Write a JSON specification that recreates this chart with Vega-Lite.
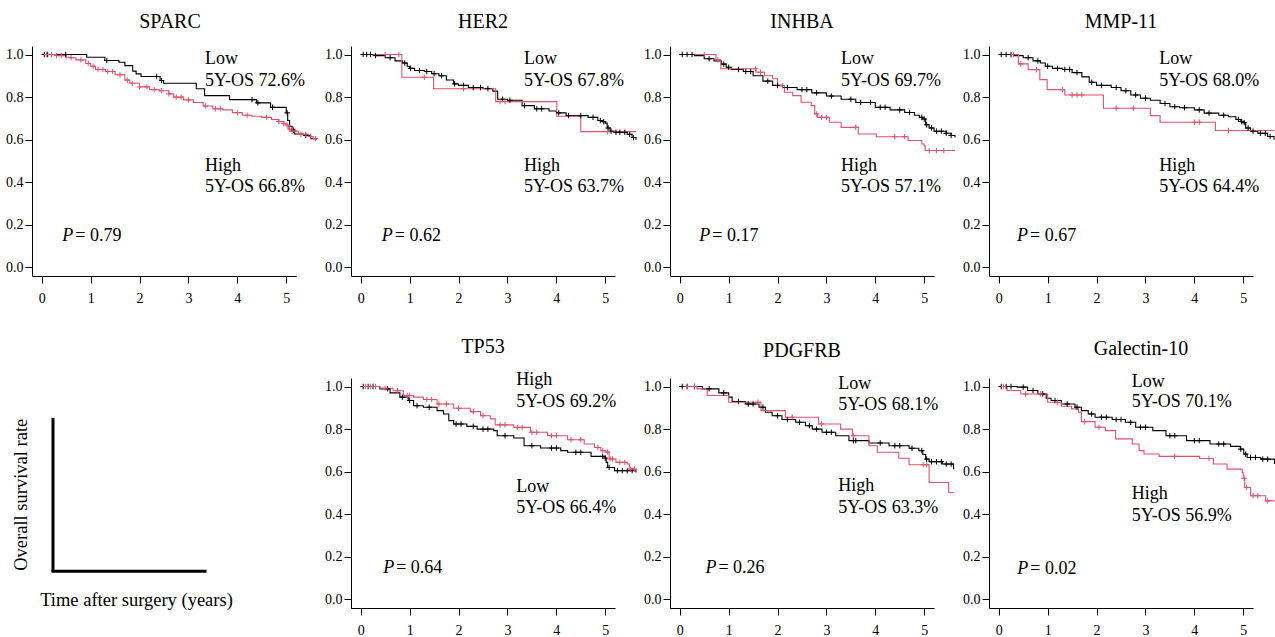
{
  "$schema": "https://vega.github.io/schema/vega-lite/v6.json",
  "padding": {"left": 5, "top": 12, "right": 0, "bottom": 0},
  "background": "white",
  "data": {"name": "km"},
  "datasets": {
    "km": [
      {"p":"SPARC","g":"Low","k":"c","t":[0,0.92,1.29,1.58,1.7,1.86,1.93,2.03,2.42,2.49,3.16,3.33,3.84,4.39,4.68,5.0,5.03,5.07,5.12,5.17,5.35,5.5,5.62],"s":[1,0.987,0.972,0.964,0.948,0.922,0.909,0.897,0.878,0.865,0.839,0.807,0.788,0.773,0.752,0.726,0.69,0.663,0.645,0.627,0.62,0.605,0.6]},
      {"p":"SPARC","g":"Low","k":"x","t":[0.05,0.12,0.49,1.33,2.35,2.45,4.3,4.42,4.72,5.02,5.15,5.4],"s":[1,1,1,0.972,0.897,0.878,0.788,0.773,0.752,0.726,0.645,0.62]},
      {"p":"SPARC","g":"High","k":"c","t":[0,0.3,0.5,0.7,0.9,1.0,1.1,1.3,1.5,1.7,1.8,2.0,2.2,2.4,2.6,2.7,2.9,3.1,3.3,3.5,3.7,3.9,4.1,4.3,4.5,4.7,4.85,4.95,5.0,5.05,5.1,5.25,5.45,5.55,5.62],"s":[1,0.995,0.985,0.975,0.958,0.945,0.93,0.92,0.905,0.88,0.865,0.848,0.835,0.83,0.815,0.8,0.787,0.775,0.758,0.745,0.74,0.727,0.715,0.71,0.705,0.695,0.685,0.675,0.668,0.65,0.64,0.625,0.615,0.605,0.6]},
      {"p":"SPARC","g":"High","k":"x","t":[0.1,0.2,0.3,0.4,0.6,0.8,0.95,1.05,1.15,1.25,1.35,1.45,1.6,1.75,1.85,2.0,2.15,2.3,2.45,2.6,2.75,2.85,3.0,3.35,3.55,3.65,4.0,4.2,4.6,4.85,4.95,5.02,5.07,5.12,5.18,5.3,5.4,5.5,5.6],"s":[1,1,0.995,0.995,0.985,0.975,0.958,0.945,0.93,0.93,0.92,0.92,0.905,0.88,0.865,0.848,0.848,0.835,0.83,0.815,0.8,0.8,0.787,0.758,0.745,0.745,0.727,0.715,0.705,0.685,0.675,0.668,0.65,0.64,0.64,0.625,0.625,0.615,0.605]},
      {"p":"SPARC","k":"l","t":[3.34,3.34,3.34,3.34],"s":[0.956,0.854,0.454,0.353],"txt":["Low","5Y-OS 72.6%","High","5Y-OS 66.8%"]},
      {"p":"SPARC","k":"p","t":0.42,"s":0.125,"txt":"= 0.79"},

      {"p":"HER2","g":"Low","k":"c","t":[0,0.3,0.5,0.7,0.85,0.95,1.0,1.1,1.3,1.45,1.6,1.75,1.9,2.0,2.2,2.5,2.7,2.8,3.0,3.3,3.55,3.85,4.0,4.2,4.65,4.85,4.95,5.0,5.04,5.1,5.2,5.45,5.55,5.63],"s":[1,0.995,0.985,0.97,0.96,0.945,0.935,0.925,0.92,0.91,0.9,0.88,0.862,0.855,0.845,0.84,0.828,0.79,0.785,0.76,0.745,0.735,0.726,0.713,0.705,0.69,0.685,0.678,0.655,0.64,0.635,0.625,0.61,0.6]},
      {"p":"HER2","g":"Low","k":"x","t":[0.05,0.12,0.2,0.3,0.6,0.9,1.02,1.2,1.35,1.5,1.65,1.92,2.1,2.3,2.45,2.6,2.9,3.05,3.35,3.6,3.7,4.05,4.25,4.5,4.75,4.9,4.97,5.06,5.12,5.22,5.3,5.4,5.5,5.58],"s":[1,1,1,0.995,0.985,0.96,0.935,0.925,0.92,0.91,0.9,0.862,0.855,0.845,0.845,0.84,0.79,0.785,0.76,0.745,0.745,0.726,0.713,0.713,0.705,0.69,0.685,0.655,0.64,0.635,0.635,0.635,0.625,0.61]},
      {"p":"HER2","g":"High","k":"c","t":[0,0.84,1.49,2.76,4.01,4.5,5.63],"s":[1,0.893,0.839,0.779,0.71,0.638,0.638]},
      {"p":"HER2","g":"High","k":"x","t":[0.5,0.78,1.3,2.1,2.85,2.95,5.05],"s":[1,1,0.893,0.839,0.779,0.779,0.638]},
      {"p":"HER2","k":"l","t":[3.34,3.34,3.34,3.34],"s":[0.956,0.854,0.454,0.353],"txt":["Low","5Y-OS 67.8%","High","5Y-OS 63.7%"]},
      {"p":"HER2","k":"p","t":0.43,"s":0.125,"txt":"= 0.62"},

      {"p":"INHBA","g":"Low","k":"c","t":[0,0.3,0.5,0.7,0.85,0.95,1.05,1.3,1.5,1.7,1.9,2.1,2.4,2.7,3.0,3.3,3.6,4.0,4.3,4.6,4.8,4.9,4.97,5.03,5.1,5.2,5.45,5.55,5.63],"s":[1,0.995,0.98,0.97,0.955,0.94,0.93,0.92,0.9,0.875,0.855,0.845,0.835,0.82,0.805,0.79,0.775,0.752,0.74,0.728,0.715,0.705,0.697,0.67,0.655,0.64,0.63,0.62,0.61]},
      {"p":"INHBA","g":"Low","k":"x","t":[0.05,0.15,0.25,0.6,0.9,1.0,1.2,1.35,1.45,1.8,2.0,2.2,2.5,2.6,2.8,3.1,3.5,3.7,3.9,4.1,4.2,4.5,4.7,4.95,5.0,5.05,5.15,5.25,5.35,5.45,5.55],"s":[1,1,1,0.98,0.955,0.94,0.93,0.92,0.92,0.875,0.855,0.845,0.835,0.835,0.82,0.805,0.79,0.775,0.775,0.752,0.752,0.74,0.728,0.705,0.697,0.67,0.655,0.64,0.64,0.63,0.62]},
      {"p":"INHBA","g":"High","k":"c","t":[0,0.74,0.84,1.56,1.73,1.9,2.0,2.14,2.31,2.48,2.69,2.76,2.82,3.06,3.3,3.65,4.02,4.67,4.95,5.0,5.02,5.63],"s":[1,0.975,0.933,0.917,0.9,0.886,0.854,0.823,0.807,0.776,0.76,0.721,0.705,0.682,0.658,0.627,0.614,0.596,0.58,0.571,0.549,0.549]},
      {"p":"INHBA","g":"High","k":"x","t":[0.5,0.78,1.55,1.65,2.1,2.8,2.9,3.0,3.6,4.4,4.6,5.1,5.25,5.4],"s":[1,0.975,0.933,0.917,0.854,0.721,0.705,0.705,0.658,0.614,0.614,0.549,0.549,0.549]},
      {"p":"INHBA","k":"l","t":[3.3,3.3,3.3,3.3],"s":[0.956,0.854,0.454,0.353],"txt":["Low","5Y-OS 69.7%","High","5Y-OS 57.1%"]},
      {"p":"INHBA","k":"p","t":0.4,"s":0.125,"txt":"= 0.17"},

      {"p":"MMP-11","g":"Low","k":"c","t":[0,0.3,0.5,0.7,0.85,0.95,1.1,1.3,1.5,1.7,1.85,2.0,2.3,2.5,2.7,2.9,3.1,3.3,3.5,3.7,4.0,4.2,4.5,4.7,4.85,4.95,5.0,5.05,5.15,5.3,5.5,5.63],"s":[1,0.995,0.985,0.97,0.96,0.945,0.935,0.93,0.915,0.895,0.87,0.855,0.845,0.83,0.81,0.795,0.785,0.77,0.755,0.75,0.74,0.725,0.715,0.708,0.695,0.685,0.68,0.655,0.64,0.63,0.615,0.6]},
      {"p":"MMP-11","g":"Low","k":"x","t":[0.05,0.15,0.25,0.6,0.8,1.0,1.2,1.35,1.45,1.6,1.9,2.1,2.4,2.6,2.8,3.0,3.4,3.6,3.8,4.1,4.3,4.6,4.9,4.97,5.02,5.1,5.2,5.35,5.45,5.55],"s":[1,1,1,0.985,0.97,0.945,0.935,0.93,0.93,0.915,0.87,0.855,0.845,0.83,0.81,0.795,0.77,0.755,0.75,0.74,0.725,0.715,0.695,0.685,0.68,0.655,0.64,0.63,0.63,0.615]},
      {"p":"MMP-11","g":"High","k":"c","t":[0,0.4,0.6,0.84,0.99,1.35,2.14,3.1,3.3,4.43,5.63],"s":[1,0.956,0.929,0.882,0.835,0.81,0.748,0.713,0.682,0.643,0.643]},
      {"p":"MMP-11","g":"High","k":"x","t":[0.3,0.45,0.77,1.3,1.5,1.6,1.7,2.4,2.75,4.0,4.1,4.7],"s":[1,0.956,0.929,0.835,0.81,0.81,0.81,0.748,0.748,0.682,0.682,0.643]},
      {"p":"MMP-11","k":"l","t":[3.28,3.28,3.28,3.28],"s":[0.956,0.854,0.454,0.353],"txt":["Low","5Y-OS 68.0%","High","5Y-OS 64.4%"]},
      {"p":"MMP-11","k":"p","t":0.375,"s":0.125,"txt":"= 0.67"},

      {"p":"TP53","g":"Low","k":"c","t":[0,0.39,0.6,0.8,0.97,1.08,1.28,1.56,1.69,1.8,1.9,2.17,2.38,2.72,2.79,3.13,3.34,3.68,4.09,4.23,4.71,5.0,5.02,5.05,5.19,5.63],"s":[1,0.989,0.97,0.95,0.934,0.91,0.903,0.887,0.871,0.84,0.824,0.813,0.8,0.793,0.769,0.758,0.722,0.711,0.699,0.691,0.672,0.664,0.644,0.62,0.605,0.6]},
      {"p":"TP53","g":"Low","k":"x","t":[0.05,0.15,0.25,0.55,0.85,1.0,1.15,1.4,1.95,2.05,2.3,2.5,2.6,2.95,3.5,3.9,4.0,4.4,4.5,4.95,5.0,5.08,5.25,5.35,5.45,5.55],"s":[1,1,1,0.989,0.95,0.934,0.91,0.903,0.824,0.824,0.813,0.8,0.8,0.769,0.722,0.711,0.711,0.691,0.691,0.672,0.664,0.62,0.605,0.605,0.605,0.605]},
      {"p":"TP53","g":"High","k":"c","t":[0,0.39,0.66,0.87,1.08,1.28,1.56,1.9,2.24,2.45,2.65,2.75,3.13,3.47,3.82,4.23,4.57,4.78,4.91,5.0,5.08,5.22,5.45,5.5,5.63],"s":[1,0.992,0.98,0.958,0.95,0.939,0.918,0.898,0.882,0.863,0.848,0.82,0.808,0.785,0.769,0.75,0.73,0.714,0.699,0.692,0.66,0.644,0.636,0.612,0.593]},
      {"p":"TP53","g":"High","k":"x","t":[0.1,0.2,0.3,0.5,0.75,0.95,1.0,1.35,1.45,1.6,1.75,2.0,2.3,2.5,2.85,2.95,3.2,3.3,3.5,3.6,3.9,4.0,4.3,4.5,4.85,4.95,5.05,5.1,5.15,5.3,5.4,5.52,5.6],"s":[1,1,1,0.992,0.98,0.958,0.958,0.939,0.939,0.918,0.918,0.898,0.882,0.863,0.82,0.82,0.808,0.808,0.785,0.785,0.769,0.769,0.75,0.75,0.714,0.699,0.692,0.66,0.66,0.644,0.644,0.612,0.612]},
      {"p":"TP53","k":"l","t":[3.18,3.18,3.18,3.18],"s":[1.005,0.903,0.507,0.408],"txt":["High","5Y-OS 69.2%","Low","5Y-OS 66.4%"]},
      {"p":"TP53","k":"p","t":0.458,"s":0.126,"txt":"= 0.64"},

      {"p":"PDGFRB","g":"Low","k":"c","t":[0,0.46,0.8,1.0,1.07,1.34,1.62,1.75,1.89,2.09,2.37,2.57,2.71,2.91,3.19,3.46,3.87,4.28,4.69,4.89,4.97,5.03,5.1,5.37,5.6],"s":[1,0.989,0.97,0.95,0.93,0.918,0.903,0.879,0.863,0.845,0.832,0.816,0.8,0.785,0.769,0.746,0.735,0.722,0.71,0.699,0.681,0.659,0.647,0.636,0.612]},
      {"p":"PDGFRB","g":"Low","k":"x","t":[0.05,0.15,0.3,0.6,0.9,1.2,1.4,1.5,1.7,2.0,2.2,2.45,2.65,2.8,3.0,3.1,3.55,3.6,4.1,4.4,4.5,4.75,4.95,5.05,5.15,5.25,5.35,5.45,5.55],"s":[1,1,1,0.989,0.97,0.93,0.918,0.918,0.903,0.863,0.845,0.832,0.816,0.8,0.785,0.785,0.746,0.746,0.735,0.722,0.722,0.71,0.699,0.659,0.647,0.647,0.647,0.636,0.636]},
      {"p":"PDGFRB","g":"High","k":"c","t":[0,0.35,0.56,1.0,1.66,2.16,2.84,3.29,3.53,3.87,4.04,4.48,4.69,5.1,5.5,5.6],"s":[1,0.989,0.958,0.926,0.887,0.856,0.824,0.8,0.769,0.722,0.691,0.663,0.633,0.549,0.502,0.502]},
      {"p":"PDGFRB","g":"High","k":"x","t":[0.15,0.3,1.6,2.3,2.9,3.55,4.98,5.05],"s":[1,1,0.926,0.856,0.824,0.769,0.633,0.633]},
      {"p":"PDGFRB","k":"l","t":[3.24,3.24,3.24,3.24],"s":[0.989,0.892,0.51,0.408],"txt":["Low","5Y-OS 68.1%","High","5Y-OS 63.3%"]},
      {"p":"PDGFRB","k":"p","t":0.525,"s":0.126,"txt":"= 0.26"},

      {"p":"Galectin-10","g":"Low","k":"c","t":[0,0.38,0.59,0.8,0.97,1.07,1.28,1.56,1.69,1.83,1.97,2.32,2.59,2.8,3.15,3.42,3.84,4.32,4.74,4.94,5.01,5.08,5.36,5.64],"s":[1,0.997,0.981,0.965,0.945,0.934,0.918,0.903,0.887,0.871,0.856,0.845,0.832,0.809,0.793,0.769,0.746,0.73,0.719,0.706,0.683,0.667,0.659,0.636]},
      {"p":"Galectin-10","g":"Low","k":"x","t":[0.05,0.15,0.25,0.5,0.7,0.9,1.15,1.4,1.6,1.9,2.1,2.2,2.4,2.5,2.7,2.9,3.0,3.5,3.6,4.0,4.1,4.5,4.6,4.95,5.05,5.15,5.25,5.4,5.5],"s":[1,1,1,0.997,0.981,0.965,0.934,0.918,0.903,0.871,0.856,0.856,0.845,0.845,0.832,0.809,0.809,0.769,0.769,0.746,0.746,0.73,0.73,0.706,0.683,0.667,0.667,0.659,0.659]},
      {"p":"Galectin-10","g":"High","k":"c","t":[0,0.17,0.45,1.0,1.28,1.49,1.63,1.69,1.97,2.18,2.39,2.73,2.87,2.97,3.28,4.11,4.39,4.67,4.98,5.0,5.03,5.15,5.46,5.64],"s":[1,0.981,0.965,0.926,0.907,0.895,0.879,0.835,0.809,0.793,0.754,0.73,0.699,0.683,0.672,0.662,0.636,0.612,0.597,0.569,0.526,0.487,0.463,0.463]},
      {"p":"Galectin-10","g":"High","k":"x","t":[0.1,0.55,0.85,1.2,1.75,2.05,3.6,4.3,5.02,5.07,5.2,5.3,5.5],"s":[1,0.965,0.965,0.926,0.835,0.809,0.672,0.662,0.569,0.526,0.487,0.487,0.463]},
      {"p":"Galectin-10","k":"l","t":[2.72,2.72,2.72,2.72],"s":[1.0,0.903,0.47,0.368],"txt":["Low","5Y-OS 70.1%","High","5Y-OS 56.9%"]},
      {"p":"Galectin-10","k":"p","t":0.38,"s":0.122,"txt":"= 0.02"}
    ]
  },
  "columns": 4,
  "spacing": {"row": 102, "column": 55},
  "bounds": "flush",
  "concat": [
    {
      "title": {"text": "SPARC", "dx": 6},
      "width": 264, "height": 230,
      "transform": [{"filter": "datum.p === 'SPARC'"}],
      "encoding": {
        "x": {"field": "t", "type": "quantitative", "scale": {"domain": [-0.2, 5.2], "nice": false, "zero": false}, "axis": {"values": [0,1,2,3,4,5], "format": "d", "title": null}},
        "y": {"field": "s", "type": "quantitative", "scale": {"domain": [-0.04, 1.04], "nice": false, "zero": false}, "axis": {"values": [0,0.2,0.4,0.6,0.8,1], "format": ".1f", "title": null}}
      },
      "layer": [
        {"transform": [{"filter": "datum.k === 'c'"}, {"flatten": ["t","s"]}], "mark": {"type": "line", "interpolate": "step-after", "strokeWidth": 1.1}, "encoding": {"color": {"field": "g", "type": "nominal", "scale": {"domain": ["Low","High"], "range": ["#000000","#DF536B"]}, "legend": null}}},
        {"transform": [{"filter": "datum.k === 'x'"}, {"flatten": ["t","s"]}], "mark": {"type": "point", "shape": "M0,-1L0,1M-1,0L1,0", "size": 30, "strokeWidth": 1, "opacity": 1}, "encoding": {"color": {"field": "g", "type": "nominal", "scale": {"domain": ["Low","High"], "range": ["#000000","#DF536B"]}, "legend": null}}},
        {"transform": [{"filter": "datum.k === 'l'"}, {"flatten": ["t","s","txt"]}], "mark": {"type": "text", "align": "left", "baseline": "alphabetic"}, "encoding": {"text": {"field": "txt", "type": "nominal"}}},
        {"transform": [{"filter": "datum.k === 'p'"}], "mark": {"type": "text", "align": "left", "baseline": "alphabetic", "fontStyle": "italic"}, "encoding": {"text": {"value": "P"}}},
        {"transform": [{"filter": "datum.k === 'p'"}], "mark": {"type": "text", "align": "left", "baseline": "alphabetic", "dx": 13}, "encoding": {"text": {"field": "txt", "type": "nominal"}}}
      ]
    },
    {
      "title": {"text": "HER2", "dx": 0},
      "width": 264, "height": 230,
      "transform": [{"filter": "datum.p === 'HER2'"}],
      "encoding": {
        "x": {"field": "t", "type": "quantitative", "scale": {"domain": [-0.2, 5.2], "nice": false, "zero": false}, "axis": {"values": [0,1,2,3,4,5], "format": "d", "title": null}},
        "y": {"field": "s", "type": "quantitative", "scale": {"domain": [-0.04, 1.04], "nice": false, "zero": false}, "axis": {"values": [0,0.2,0.4,0.6,0.8,1], "format": ".1f", "title": null}}
      },
      "layer": [
        {"transform": [{"filter": "datum.k === 'c'"}, {"flatten": ["t","s"]}], "mark": {"type": "line", "interpolate": "step-after", "strokeWidth": 1.1}, "encoding": {"color": {"field": "g", "type": "nominal", "scale": {"domain": ["Low","High"], "range": ["#000000","#DF536B"]}, "legend": null}}},
        {"transform": [{"filter": "datum.k === 'x'"}, {"flatten": ["t","s"]}], "mark": {"type": "point", "shape": "M0,-1L0,1M-1,0L1,0", "size": 30, "strokeWidth": 1, "opacity": 1}, "encoding": {"color": {"field": "g", "type": "nominal", "scale": {"domain": ["Low","High"], "range": ["#000000","#DF536B"]}, "legend": null}}},
        {"transform": [{"filter": "datum.k === 'l'"}, {"flatten": ["t","s","txt"]}], "mark": {"type": "text", "align": "left", "baseline": "alphabetic"}, "encoding": {"text": {"field": "txt", "type": "nominal"}}},
        {"transform": [{"filter": "datum.k === 'p'"}], "mark": {"type": "text", "align": "left", "baseline": "alphabetic", "fontStyle": "italic"}, "encoding": {"text": {"value": "P"}}},
        {"transform": [{"filter": "datum.k === 'p'"}], "mark": {"type": "text", "align": "left", "baseline": "alphabetic", "dx": 13}, "encoding": {"text": {"field": "txt", "type": "nominal"}}}
      ]
    },
    {
      "title": {"text": "INHBA", "dx": 0},
      "width": 264, "height": 230,
      "transform": [{"filter": "datum.p === 'INHBA'"}],
      "encoding": {
        "x": {"field": "t", "type": "quantitative", "scale": {"domain": [-0.2, 5.2], "nice": false, "zero": false}, "axis": {"values": [0,1,2,3,4,5], "format": "d", "title": null}},
        "y": {"field": "s", "type": "quantitative", "scale": {"domain": [-0.04, 1.04], "nice": false, "zero": false}, "axis": {"values": [0,0.2,0.4,0.6,0.8,1], "format": ".1f", "title": null}}
      },
      "layer": [
        {"transform": [{"filter": "datum.k === 'c'"}, {"flatten": ["t","s"]}], "mark": {"type": "line", "interpolate": "step-after", "strokeWidth": 1.1}, "encoding": {"color": {"field": "g", "type": "nominal", "scale": {"domain": ["Low","High"], "range": ["#000000","#DF536B"]}, "legend": null}}},
        {"transform": [{"filter": "datum.k === 'x'"}, {"flatten": ["t","s"]}], "mark": {"type": "point", "shape": "M0,-1L0,1M-1,0L1,0", "size": 30, "strokeWidth": 1, "opacity": 1}, "encoding": {"color": {"field": "g", "type": "nominal", "scale": {"domain": ["Low","High"], "range": ["#000000","#DF536B"]}, "legend": null}}},
        {"transform": [{"filter": "datum.k === 'l'"}, {"flatten": ["t","s","txt"]}], "mark": {"type": "text", "align": "left", "baseline": "alphabetic"}, "encoding": {"text": {"field": "txt", "type": "nominal"}}},
        {"transform": [{"filter": "datum.k === 'p'"}], "mark": {"type": "text", "align": "left", "baseline": "alphabetic", "fontStyle": "italic"}, "encoding": {"text": {"value": "P"}}},
        {"transform": [{"filter": "datum.k === 'p'"}], "mark": {"type": "text", "align": "left", "baseline": "alphabetic", "dx": 13}, "encoding": {"text": {"field": "txt", "type": "nominal"}}}
      ]
    },
    {
      "title": {"text": "MMP-11", "dx": 0},
      "width": 264, "height": 230,
      "transform": [{"filter": "datum.p === 'MMP-11'"}],
      "encoding": {
        "x": {"field": "t", "type": "quantitative", "scale": {"domain": [-0.2, 5.2], "nice": false, "zero": false}, "axis": {"values": [0,1,2,3,4,5], "format": "d", "title": null}},
        "y": {"field": "s", "type": "quantitative", "scale": {"domain": [-0.04, 1.04], "nice": false, "zero": false}, "axis": {"values": [0,0.2,0.4,0.6,0.8,1], "format": ".1f", "title": null}}
      },
      "layer": [
        {"transform": [{"filter": "datum.k === 'c'"}, {"flatten": ["t","s"]}], "mark": {"type": "line", "interpolate": "step-after", "strokeWidth": 1.1}, "encoding": {"color": {"field": "g", "type": "nominal", "scale": {"domain": ["Low","High"], "range": ["#000000","#DF536B"]}, "legend": null}}},
        {"transform": [{"filter": "datum.k === 'x'"}, {"flatten": ["t","s"]}], "mark": {"type": "point", "shape": "M0,-1L0,1M-1,0L1,0", "size": 30, "strokeWidth": 1, "opacity": 1}, "encoding": {"color": {"field": "g", "type": "nominal", "scale": {"domain": ["Low","High"], "range": ["#000000","#DF536B"]}, "legend": null}}},
        {"transform": [{"filter": "datum.k === 'l'"}, {"flatten": ["t","s","txt"]}], "mark": {"type": "text", "align": "left", "baseline": "alphabetic"}, "encoding": {"text": {"field": "txt", "type": "nominal"}}},
        {"transform": [{"filter": "datum.k === 'p'"}], "mark": {"type": "text", "align": "left", "baseline": "alphabetic", "fontStyle": "italic"}, "encoding": {"text": {"value": "P"}}},
        {"transform": [{"filter": "datum.k === 'p'"}], "mark": {"type": "text", "align": "left", "baseline": "alphabetic", "dx": 13}, "encoding": {"text": {"field": "txt", "type": "nominal"}}}
      ]
    },
    {
      "width": 155, "height": 154,
      "transform": [{"filter": "datum.p === 'SPARC' && datum.k === 'c'"}, {"flatten": ["t","s"]}],
      "mark": {"type": "point", "opacity": 0},
      "encoding": {
        "x": {"field": "t", "type": "quantitative", "scale": {"domain": [0, 6], "nice": false}, "axis": {"title": "Time after surgery (years)", "ticks": false, "labels": false, "domainWidth": 3, "offset": 38.7, "position": 19, "titlePadding": 20, "titleX": 85}},
        "y": {"field": "s", "type": "quantitative", "scale": {"domain": [0, 1]}, "axis": {"title": "Overall survival rate", "ticks": false, "labels": false, "domainWidth": 3, "offset": -20.5, "position": 39.3, "titlePadding": 22}}
      }
    },
    {
      "title": {"text": "TP53", "dx": 0},
      "width": 264, "height": 230,
      "transform": [{"filter": "datum.p === 'TP53'"}],
      "encoding": {
        "x": {"field": "t", "type": "quantitative", "scale": {"domain": [-0.2, 5.2], "nice": false, "zero": false}, "axis": {"values": [0,1,2,3,4,5], "format": "d", "title": null}},
        "y": {"field": "s", "type": "quantitative", "scale": {"domain": [-0.04, 1.04], "nice": false, "zero": false}, "axis": {"values": [0,0.2,0.4,0.6,0.8,1], "format": ".1f", "title": null}}
      },
      "layer": [
        {"transform": [{"filter": "datum.k === 'c'"}, {"flatten": ["t","s"]}], "mark": {"type": "line", "interpolate": "step-after", "strokeWidth": 1.1}, "encoding": {"color": {"field": "g", "type": "nominal", "scale": {"domain": ["Low","High"], "range": ["#000000","#DF536B"]}, "legend": null}}},
        {"transform": [{"filter": "datum.k === 'x'"}, {"flatten": ["t","s"]}], "mark": {"type": "point", "shape": "M0,-1L0,1M-1,0L1,0", "size": 30, "strokeWidth": 1, "opacity": 1}, "encoding": {"color": {"field": "g", "type": "nominal", "scale": {"domain": ["Low","High"], "range": ["#000000","#DF536B"]}, "legend": null}}},
        {"transform": [{"filter": "datum.k === 'l'"}, {"flatten": ["t","s","txt"]}], "mark": {"type": "text", "align": "left", "baseline": "alphabetic"}, "encoding": {"text": {"field": "txt", "type": "nominal"}}},
        {"transform": [{"filter": "datum.k === 'p'"}], "mark": {"type": "text", "align": "left", "baseline": "alphabetic", "fontStyle": "italic"}, "encoding": {"text": {"value": "P"}}},
        {"transform": [{"filter": "datum.k === 'p'"}], "mark": {"type": "text", "align": "left", "baseline": "alphabetic", "dx": 13}, "encoding": {"text": {"field": "txt", "type": "nominal"}}}
      ]
    },
    {
      "title": {"text": "PDGFRB", "dx": 0},
      "width": 264, "height": 230,
      "transform": [{"filter": "datum.p === 'PDGFRB'"}],
      "encoding": {
        "x": {"field": "t", "type": "quantitative", "scale": {"domain": [-0.2, 5.2], "nice": false, "zero": false}, "axis": {"values": [0,1,2,3,4,5], "format": "d", "title": null}},
        "y": {"field": "s", "type": "quantitative", "scale": {"domain": [-0.04, 1.04], "nice": false, "zero": false}, "axis": {"values": [0,0.2,0.4,0.6,0.8,1], "format": ".1f", "title": null}}
      },
      "layer": [
        {"transform": [{"filter": "datum.k === 'c'"}, {"flatten": ["t","s"]}], "mark": {"type": "line", "interpolate": "step-after", "strokeWidth": 1.1}, "encoding": {"color": {"field": "g", "type": "nominal", "scale": {"domain": ["Low","High"], "range": ["#000000","#DF536B"]}, "legend": null}}},
        {"transform": [{"filter": "datum.k === 'x'"}, {"flatten": ["t","s"]}], "mark": {"type": "point", "shape": "M0,-1L0,1M-1,0L1,0", "size": 30, "strokeWidth": 1, "opacity": 1}, "encoding": {"color": {"field": "g", "type": "nominal", "scale": {"domain": ["Low","High"], "range": ["#000000","#DF536B"]}, "legend": null}}},
        {"transform": [{"filter": "datum.k === 'l'"}, {"flatten": ["t","s","txt"]}], "mark": {"type": "text", "align": "left", "baseline": "alphabetic"}, "encoding": {"text": {"field": "txt", "type": "nominal"}}},
        {"transform": [{"filter": "datum.k === 'p'"}], "mark": {"type": "text", "align": "left", "baseline": "alphabetic", "fontStyle": "italic"}, "encoding": {"text": {"value": "P"}}},
        {"transform": [{"filter": "datum.k === 'p'"}], "mark": {"type": "text", "align": "left", "baseline": "alphabetic", "dx": 13}, "encoding": {"text": {"field": "txt", "type": "nominal"}}}
      ]
    },
    {
      "title": {"text": "Galectin-10", "dx": 20},
      "width": 264, "height": 230,
      "transform": [{"filter": "datum.p === 'Galectin-10'"}],
      "encoding": {
        "x": {"field": "t", "type": "quantitative", "scale": {"domain": [-0.2, 5.2], "nice": false, "zero": false}, "axis": {"values": [0,1,2,3,4,5], "format": "d", "title": null}},
        "y": {"field": "s", "type": "quantitative", "scale": {"domain": [-0.04, 1.04], "nice": false, "zero": false}, "axis": {"values": [0,0.2,0.4,0.6,0.8,1], "format": ".1f", "title": null}}
      },
      "layer": [
        {"transform": [{"filter": "datum.k === 'c'"}, {"flatten": ["t","s"]}], "mark": {"type": "line", "interpolate": "step-after", "strokeWidth": 1.1}, "encoding": {"color": {"field": "g", "type": "nominal", "scale": {"domain": ["Low","High"], "range": ["#000000","#DF536B"]}, "legend": null}}},
        {"transform": [{"filter": "datum.k === 'x'"}, {"flatten": ["t","s"]}], "mark": {"type": "point", "shape": "M0,-1L0,1M-1,0L1,0", "size": 30, "strokeWidth": 1, "opacity": 1}, "encoding": {"color": {"field": "g", "type": "nominal", "scale": {"domain": ["Low","High"], "range": ["#000000","#DF536B"]}, "legend": null}}},
        {"transform": [{"filter": "datum.k === 'l'"}, {"flatten": ["t","s","txt"]}], "mark": {"type": "text", "align": "left", "baseline": "alphabetic"}, "encoding": {"text": {"field": "txt", "type": "nominal"}}},
        {"transform": [{"filter": "datum.k === 'p'"}], "mark": {"type": "text", "align": "left", "baseline": "alphabetic", "fontStyle": "italic"}, "encoding": {"text": {"value": "P"}}},
        {"transform": [{"filter": "datum.k === 'p'"}], "mark": {"type": "text", "align": "left", "baseline": "alphabetic", "dx": 13}, "encoding": {"text": {"field": "txt", "type": "nominal"}}}
      ]
    }
  ],
  "config": {
    "view": {"stroke": null},
    "font": "Liberation Serif",
    "axis": {"grid": false, "domainColor": "#000000", "tickColor": "#000000", "labelColor": "#000000", "titleColor": "#000000", "labelFont": "Liberation Serif", "titleFont": "Liberation Serif", "labelFontSize": 14, "titleFontSize": 18.5, "titleFontWeight": "normal", "tickSize": 7, "tickWidth": 1, "domainWidth": 1, "labelFlush": false, "labelOverlap": false},
    "axisX": {"labelPadding": 8},
    "axisY": {"labelPadding": 2},
    "title": {"font": "Liberation Serif", "fontSize": 20, "fontWeight": "normal", "color": "#000000", "offset": 14},
    "text": {"font": "Liberation Serif", "fontSize": 18, "color": "#000000"}
  }
}
